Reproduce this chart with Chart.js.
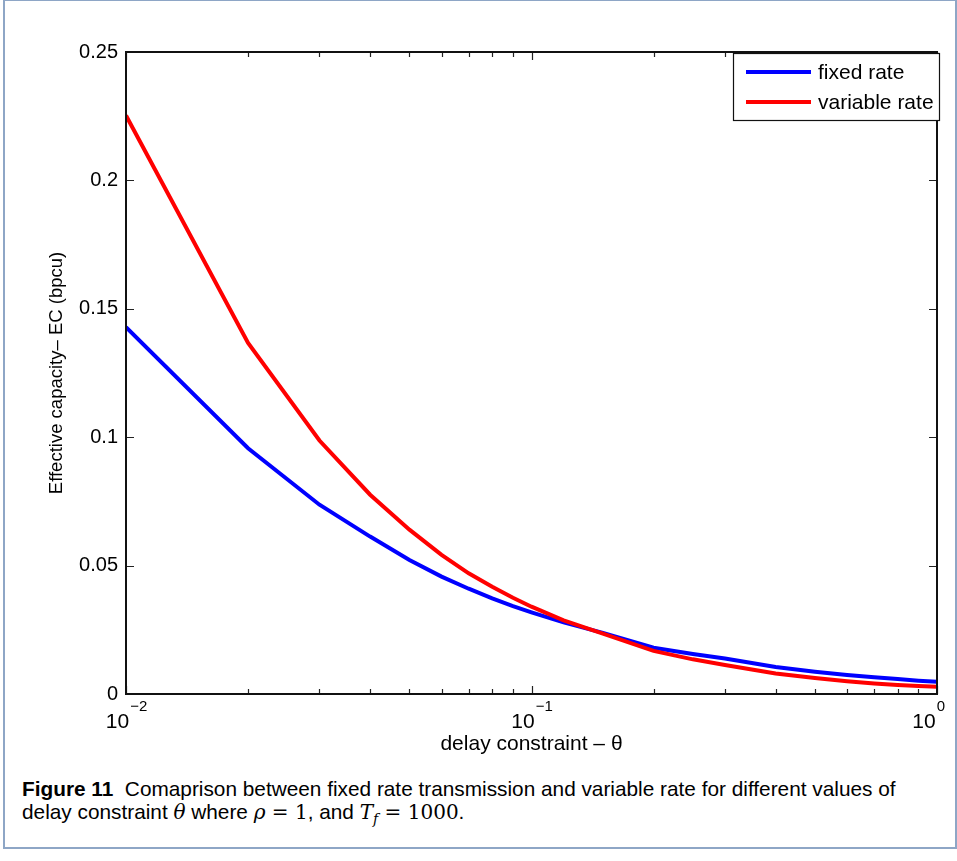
<!DOCTYPE html>
<html>
<head>
<meta charset="utf-8">
<script src="https://cdn.jsdelivr.net/npm/chart.js@4.4.0/dist/chart.umd.min.js"></script>
<style>
  html, body { margin: 0; padding: 0; background: #fff; }
  body { width: 957px; height: 861px; position: relative; overflow: hidden; }
  #frame {
    position: absolute; left: 3px; top: -1px; width: 950px; height: 846px;
    border: 2px solid #8ea6c6;
  }
  #wrap { position: absolute; left: 0; top: 0; width: 957px; height: 770px; }
  #caption {
    position: absolute; left: 22px; top: 777px;
    font: 20.8px "Liberation Sans", Arial, sans-serif; line-height: 23px; color: #000;
    white-space: nowrap;
  }
  #caption b { font-weight: bold; }
  .m { font-family: "DejaVu Serif", "Liberation Serif", serif; font-size: 20px; }
  .m i { font-style: italic; }
</style>
</head>
<body>
<div id="frame"></div>
<div id="wrap"><canvas id="chart"></canvas></div>
<div id="caption"><b>Figure 11</b>&nbsp; Comaprison between fixed rate transmission and variable rate for different values of<br>delay constraint <span class="m"><i>θ</i></span> where <span class="m"><i>ρ</i>&nbsp;=&nbsp;1</span>, and <span class="m"><i>T<sub style="font-size:14px">f</sub></i>&nbsp;=&nbsp;1000</span>.</div>
<script>
// delay constraint theta (x) and effective capacity values
const theta = [0.01, 0.02, 0.03, 0.04, 0.05, 0.06, 0.07, 0.08, 0.09, 0.1,
  0.12, 0.15, 0.2, 0.25, 0.3, 0.4, 0.5, 0.6, 0.7, 0.8, 0.9, 1.0];
const fixedRate = [0.1428, 0.0957, 0.0737, 0.0613, 0.0522, 0.0457, 0.0410, 0.0372, 0.0342, 0.0318,
  0.0279, 0.0238, 0.0180, 0.0156, 0.0138, 0.0105, 0.0087, 0.0074, 0.0065, 0.0058, 0.0052, 0.0048];
const variableRate = [0.2253, 0.1367, 0.0987, 0.0776, 0.0640, 0.0542, 0.0470, 0.0418, 0.0375, 0.0340,
  0.0287, 0.0235, 0.0168, 0.0135, 0.0113, 0.0080, 0.0062, 0.0050, 0.0041, 0.0035, 0.0031, 0.0028];

const xTicks = [0.01, 0.02, 0.03, 0.04, 0.05, 0.06, 0.07, 0.08, 0.09,
  0.1, 0.2, 0.3, 0.4, 0.5, 0.6, 0.7, 0.8, 0.9, 1];
// decade labels: base and exponent
const xDecades = [0.01, 0.1, 1];
const xExponents = ["−2", "−1", "0"];
const yTicks = [0, 0.05, 0.1, 0.15, 0.2, 0.25];
const yTickLabels = ["0", "0.05", "0.1", "0.15", "0.2", "0.25"];

function toPoints(ys) {
  return theta.map((t, i) => ({ x: t, y: ys[i] }));
}

const FONT = "'Liberation Sans', Arial, sans-serif";

// inner tick marks, box, decade labels and legend like the matlab figure
const boxPlugin = {
  id: "boxPlugin",
  afterDraw(chart) {
    const { ctx, chartArea: a, scales } = chart;
    const x = scales.x;
    const y = scales.y;
    ctx.save();
    ctx.strokeStyle = "#222";
    ctx.lineWidth = 1.2;
    ctx.beginPath();
    yTicks.forEach((v) => {
      const py = Math.round(y.getPixelForValue(v)) + 0.5;
      ctx.moveTo(a.left, py);
      ctx.lineTo(a.left + 8, py);
      ctx.moveTo(a.right, py);
      ctx.lineTo(a.right - 8, py);
    });
    xTicks.forEach((v) => {
      const px = Math.round(x.getPixelForValue(v)) + 0.5;
      const len = xDecades.includes(v) ? 8 : 5;
      ctx.moveTo(px, a.bottom);
      ctx.lineTo(px, a.bottom - len);
      ctx.moveTo(px, a.top);
      ctx.lineTo(px, a.top + len);
    });
    ctx.stroke();

    ctx.lineWidth = 2;
    ctx.strokeStyle = "#111";
    ctx.strokeRect(a.left, a.top, a.right - a.left, a.bottom - a.top);

    // x decade labels 10^n
    ctx.fillStyle = "#000";
    ctx.textBaseline = "middle";
    ctx.textAlign = "left";
    xDecades.forEach((v, i) => {
      const px = x.getPixelForValue(v);
      ctx.font = "21px " + FONT;
      const wb = ctx.measureText("10").width;
      ctx.font = "15px " + FONT;
      const we = ctx.measureText(xExponents[i]).width;
      let left = px - (wb + we) / 2;
      left = Math.min(left, a.right + 7 - wb - we);
      ctx.font = "21px " + FONT;
      ctx.fillText("10", left, a.bottom + 28);
      ctx.font = "15px " + FONT;
      ctx.fillText(xExponents[i], left + wb + 1, a.bottom + 13);
    });

    // legend box
    const bw = 206, bh = 67;
    const bx = a.right - bw + 2, by = a.top + 1;
    ctx.fillStyle = "#fff";
    ctx.fillRect(bx, by, bw, bh);
    ctx.lineWidth = 1.2;
    ctx.strokeStyle = "#111";
    ctx.strokeRect(bx + 0.5, by + 0.5, bw, bh);
    ctx.font = "21px " + FONT;
    chart.data.datasets.forEach((ds, i) => {
      const ly = by + 19 + i * 30;
      ctx.strokeStyle = ds.borderColor;
      ctx.lineWidth = 4;
      ctx.beginPath();
      ctx.moveTo(bx + 13, ly);
      ctx.lineTo(bx + 78, ly);
      ctx.stroke();
      ctx.fillStyle = "#000";
      ctx.fillText(ds.label, bx + 85, ly + 1);
    });
    ctx.restore();
  },
};

Chart.defaults.font.family = FONT;
Chart.defaults.color = "#000";

new Chart(document.getElementById("chart"), {
  type: "line",
  data: {
    datasets: [
      {
        label: "fixed rate",
        data: toPoints(fixedRate),
        borderColor: "#0000ff",
        borderWidth: 4,
        pointRadius: 0,
        tension: 0,
        order: 1,
      },
      {
        label: "variable rate",
        data: toPoints(variableRate),
        borderColor: "#ff0000",
        borderWidth: 4,
        pointRadius: 0,
        tension: 0,
        order: 0,
      },
    ],
  },
  options: {
    responsive: true,
    maintainAspectRatio: false,
    animation: false,
    layout: { padding: { top: 52, right: 20, left: 0, bottom: 0 } },
    plugins: {
      legend: { display: false },
      tooltip: { enabled: false },
    },
    scales: {
      x: {
        type: "logarithmic",
        min: 0.01,
        max: 1,
        afterBuildTicks: (s) => {
          s.ticks = xTicks.map((v) => ({ value: v }));
        },
        afterFit: (s) => {
          s.height = 76;
        },
        ticks: {
          autoSkip: false,
          maxRotation: 0,
          callback: () => "",
        },
        grid: { drawOnChartArea: false, drawTicks: false },
        border: { display: false },
        title: {
          display: true,
          text: "delay constraint – θ",
          font: { size: 21 },
          padding: { top: 0, bottom: 13 },
        },
      },
      y: {
        min: 0,
        max: 0.25,
        afterBuildTicks: (s) => {
          s.ticks = yTicks.map((v) => ({ value: v }));
        },
        afterFit: (s) => {
          s.width = 126;
        },
        ticks: {
          padding: 8,
          font: { size: 20 },
          callback: (v) => yTickLabels[yTicks.indexOf(v)] ?? "",
        },
        grid: { drawOnChartArea: false, drawTicks: false },
        border: { display: false },
        title: {
          display: true,
          text: "Effective capacity– EC (bpcu)",
          font: { size: 18.5 },
          padding: { top: 46, bottom: 0 },
        },
      },
    },
  },
  plugins: [boxPlugin],
});
</script>
</body>
</html>
